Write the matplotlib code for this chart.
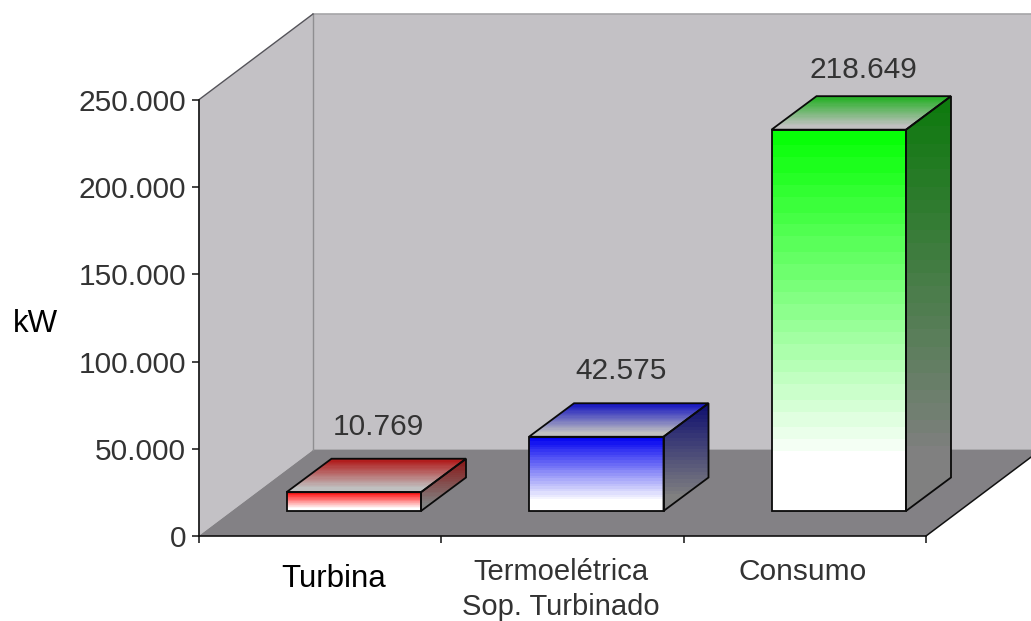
import matplotlib
matplotlib.use('Agg')
import matplotlib.pyplot as plt
import numpy as np
from matplotlib.patches import Polygon
from matplotlib.colors import to_rgb

plt.rcParams['font.family'] = ['Liberation Sans', 'DejaVu Sans']

categories = ['Turbina', 'Termoelétrica\nSop. Turbinado', 'Consumo']
values = [10769, 42575, 218649]
value_labels = ['10.769', '42.575', '218.649']
y_ticks = [0, 50000, 100000, 150000, 200000, 250000]
y_tick_labels = ['0', '50.000', '100.000', '150.000', '200.000', '250.000']

# front, side and top face colours per bar
front_colors = ['#ff0808', '#0000f0', '#08ff08']
side_colors = ['#8a1414', '#101070', '#0f7a0f']
top_colors = ['#b01010', '#1010c0', '#20b020']

# figure size and plot box, in pixels
W, H = 1031, 621
X0, X1 = 198.5, 926
Y0, Y1 = 536, 100

PX_X = (X1 - X0) / 3
PX_Y = (Y0 - Y1) / 250000


def dx(px):
    return px / PX_X


def dy(px):
    return px / PX_Y


WALL_DX, WALL_DY = dx(114.5), dy(86)
BAR_DX, BAR_DY = dx(45), dy(33.5)
BAR_WIDTH = dx(134.5)
BAR_SHIFT = dx(88)
BAR_BASE = dy(25)

# white takes over at this fraction of the face height
FADE = 0.85
BANDS = 24


def gradient(ax, clip, c_top, c_bottom, y_top, y_bottom, x_left, x_right):
    # banded vertical gradient, clipped to the face it paints
    t = np.linspace(0, 1, BANDS * 4)
    t = np.clip(t / FADE, 0, 1)
    t = np.floor(t * BANDS) / BANDS
    top, bottom = np.array(to_rgb(c_top)), np.array(to_rgb(c_bottom))
    img = top[None, None, :] + t[:, None, None] * (bottom - top)[None, None, :]
    im = ax.imshow(img, extent=(x_left, x_right, y_bottom, y_top), aspect='auto',
                   interpolation='nearest', origin='upper', zorder=3)
    # the faces stick out of the axes box, only the face itself may clip
    im.set_clip_box(ax.figure.bbox)
    im.set_clip_path(clip.get_path(), clip.get_transform())


fig = plt.figure(figsize=(W / 100, H / 100), dpi=100, facecolor='white')
ax = fig.add_axes([X0 / W, 1 - Y0 / H, (X1 - X0) / W, (Y0 - Y1) / H])
ax.patch.set_visible(False)

# walls and floor of the box
top = 250000
back_wall = Polygon([(WALL_DX, WALL_DY), (3 + WALL_DX, WALL_DY), (3 + WALL_DX, top + WALL_DY),
                     (WALL_DX, top + WALL_DY)], closed=True, fc='#c3c1c5', ec='#a6a5a8',
                    lw=1.2, clip_on=False, zorder=1)
side_wall = Polygon([(0, 0), (WALL_DX, WALL_DY), (WALL_DX, top + WALL_DY), (0, top)], closed=True,
                    fc='#c3c1c5', ec='none', clip_on=False, zorder=1)
floor = Polygon([(0, 0), (3, 0), (3 + WALL_DX, WALL_DY), (WALL_DX, WALL_DY)], closed=True,
                fc='#838185', ec='none', clip_on=False, zorder=1.5)
ax.add_patch(back_wall)
ax.add_patch(side_wall)
ax.add_patch(floor)
ax.plot([WALL_DX, WALL_DX], [WALL_DY, top + WALL_DY], color='#8f8e91', lw=1, clip_on=False, zorder=1.6)
ax.plot([0, WALL_DX], [top, top + WALL_DY], color='#55545a', lw=1, clip_on=False, zorder=1.6)
ax.plot([3, 3 + WALL_DX], [0, WALL_DY], color='#111111', lw=1.1, clip_on=False, zorder=1.6)

# bars: front, side and top faces
for i, v in enumerate(values):
    x_l = i + BAR_SHIFT
    x_r = x_l + BAR_WIDTH
    y_b = BAR_BASE
    y_t = BAR_BASE + v

    front = Polygon([(x_l, y_b), (x_r, y_b), (x_r, y_t), (x_l, y_t)], closed=True, fc='none', ec='none',
                    transform=ax.transData, zorder=3)
    ax.add_patch(front)
    gradient(ax, front, front_colors[i], 'white', y_t, y_b, x_l, x_r)

    side = Polygon([(x_r, y_b), (x_r + BAR_DX, y_b + BAR_DY), (x_r + BAR_DX, y_t + BAR_DY), (x_r, y_t)],
                   closed=True, fc='none', ec='none', transform=ax.transData, zorder=3)
    ax.add_patch(side)
    gradient(ax, side, side_colors[i], '#808080', y_t + BAR_DY, y_b, x_r, x_r + BAR_DX)

    roof = Polygon([(x_l, y_t), (x_r, y_t), (x_r + BAR_DX, y_t + BAR_DY), (x_l + BAR_DX, y_t + BAR_DY)],
                   closed=True, fc='none', ec='none', transform=ax.transData, zorder=3)
    ax.add_patch(roof)
    gradient(ax, roof, top_colors[i], '#c0c0c0', y_t + BAR_DY, y_t, x_l, x_r + BAR_DX)

    for pts in (front.get_xy()[:4], side.get_xy()[:4], roof.get_xy()[:4]):
        ax.add_patch(Polygon(pts, closed=True, fill=False, ec='#0a0a0a', lw=1.3, zorder=4, clip_on=False))

    gap = 26 if v > 100000 else 32
    ax.annotate(value_labels[i], (x_l + BAR_DX + BAR_WIDTH / 2 - dx(20), y_t + BAR_DY), xytext=(0, gap * 0.72),
                textcoords='offset points', ha='center', va='center', fontsize=21.5,
                color='#333333', zorder=5, annotation_clip=False)

ax.set_xlim(0, 3)
ax.set_ylim(0, 250000)
ax.spines[['top', 'right']].set_visible(False)
ax.spines[['left', 'bottom']].set_linewidth(1.2)
ax.spines[['left', 'bottom']].set_color('#111111')
ax.spines[['left', 'bottom']].set_zorder(6)

ax.set_yticks(y_ticks)
ax.set_yticklabels(y_tick_labels, fontsize=21.5, color='#333333')
ax.set_xticks([0, 1, 2, 3])
ax.set_xticklabels([])
ax.tick_params(axis='both', length=5, width=1.1, color='#111111')
ax.tick_params(axis='y', pad=4)

# category labels; the first one is set apart and in solid black
ax.annotate(categories[0], (dx(135.5), 0), xytext=(0, -43 * 0.72), textcoords='offset points',
            ha='center', va='center', fontsize=22.5, color='black', annotation_clip=False)
ax.annotate(categories[1], (dx(362.5), 0), xytext=(0, -53.5 * 0.72), textcoords='offset points',
            ha='center', va='center', fontsize=21, color='#333333', linespacing=1.36, annotation_clip=False)
ax.annotate(categories[2], (dx(604.5), 0), xytext=(0, -36 * 0.72), textcoords='offset points',
            ha='center', va='center', fontsize=21.5, color='#333333', annotation_clip=False)

fig.text(35.5 / W, 1 - 324 / H, 'kW', ha='center', va='center', fontsize=22.5, color='black')

fig.savefig('out.png', dpi=100)
